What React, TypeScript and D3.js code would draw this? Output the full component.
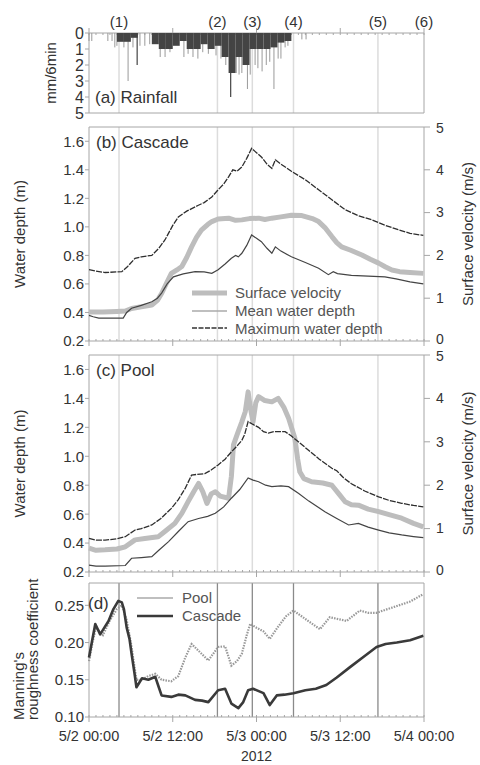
import React from 'react';
import * as d3 from 'd3';

// time in hours since 5/2 00:00
const dateTicks = [0, 12, 24, 36, 48];
const dateLabels = ['5/2 00:00', '5/2 12:00', '5/3 00:00', '5/3 12:00', '5/4 00:00'];
const eventHours = [4.3, 18.4, 23.4, 29.3, 41.4, 48];
const eventLabels = ['(1)', '(2)', '(3)', '(4)', '(5)', '(6)'];

// (a) rainfall, mm/6min
const rainHourly = [
  [4, 0.55], [5, 0.55], [6, 0.3], [9, 0.7], [10, 1.0], [11, 1.0], [12, 0.8], [13, 0.5],
  [14, 1.0], [15, 1.0], [16, 0.7], [17, 1.0], [18, 0.8], [19, 1.5], [20, 2.5], [21, 1.5],
  [22, 2.0], [23, 1.0], [24, 1.0], [25, 1.0], [26, 0.9], [27, 0.6], [28, 0.5],
];
const rainSpikes = [
  [0.0, 0.5], [0.4, 0.5], [2.7, 0.5], [3.3, 0.5], [3.7, 0.9], [4.0, 0.8], [5.0, 0.9], [5.6, 3.0],
  [6.3, 0.9], [7.3, 0.8], [8.0, 0.8], [8.7, 0.7], [10.2, 1.5], [10.9, 1.5], [11.6, 1.2],
  [13.6, 1.5], [14.2, 1.3], [14.9, 1.5], [15.6, 1.6], [16.3, 1.2], [17.1, 1.3], [17.6, 1.0],
  [18.2, 1.4], [18.9, 1.6], [19.6, 2.0], [21.1, 2.5], [21.5, 2.6], [21.9, 2.5], [22.7, 3.5],
  [23.1, 2.6], [23.8, 2.0], [24.2, 2.2], [24.8, 2.4], [25.4, 2.0], [25.9, 1.8], [26.5, 3.5],
  [27.1, 1.6], [27.5, 1.6], [28.1, 0.9], [28.5, 0.8], [30.5, 0.4], [31.1, 0.4],
];
const rainSpikesDark = [[6.9, 2.0], [20.3, 4.0]];

// (b) cascade
const cascadeMax = [
  [0, 0.7], [1, 0.69], [2.3, 0.68], [4.7, 0.686], [5.5, 0.72], [6.6, 0.78], [7.5, 0.79], [9, 0.8],
  [10, 0.85], [10.9, 0.91], [12, 1.01], [12.8, 1.07], [14, 1.11], [15.6, 1.15], [16.5, 1.17],
  [17.6, 1.21], [18.5, 1.26], [19.3, 1.3], [20, 1.35], [20.6, 1.4], [21.2, 1.39], [21.9, 1.42],
  [22.6, 1.48], [23.3, 1.55], [24, 1.52], [24.7, 1.49], [25.5, 1.44], [26.2, 1.41], [26.7, 1.47],
  [27.5, 1.44], [29, 1.39], [31, 1.33], [32.9, 1.26], [34.8, 1.19], [36.7, 1.12], [38.5, 1.08],
  [40.5, 1.05], [42.5, 1.01], [44.3, 0.98], [46, 0.955], [47.9, 0.94],
];
const cascadeMean = [
  [0, 0.38], [0.6, 0.37], [1.4, 0.36], [4.9, 0.36], [5.4, 0.4], [6.1, 0.43], [7.5, 0.45], [9, 0.475],
  [9.8, 0.5], [10.4, 0.536], [11.2, 0.6], [12.1, 0.65], [13.5, 0.67], [15.2, 0.686], [16.5, 0.685],
  [17.6, 0.674], [18.5, 0.7], [19.5, 0.74], [20.4, 0.78], [21, 0.8], [21.4, 0.79], [21.9, 0.815],
  [22.6, 0.87], [23.3, 0.943], [24, 0.92], [24.7, 0.896], [25.5, 0.85], [26.2, 0.815], [26.7, 0.86],
  [27.5, 0.83], [29, 0.79], [31, 0.75], [32.9, 0.71], [34.3, 0.665], [35, 0.686], [35.6, 0.672],
  [37.6, 0.66], [40, 0.655], [42.4, 0.65], [44, 0.635], [46, 0.615], [47.9, 0.6],
];
const cascadeVel = [
  [0, 0.68], [2, 0.68], [4, 0.69], [5.2, 0.7], [6.1, 0.76], [7.5, 0.8], [9, 0.84], [9.8, 0.95],
  [10.4, 1.11], [11.1, 1.35], [11.8, 1.58], [12.6, 1.66], [13.3, 1.74], [14, 1.95], [14.7, 2.2],
  [15.4, 2.42], [16.1, 2.59], [17, 2.72], [17.6, 2.79], [18.5, 2.85], [20, 2.87], [21, 2.82],
  [21.9, 2.83], [23, 2.86], [24.3, 2.87], [25.2, 2.84], [26.2, 2.87], [27.5, 2.9], [29, 2.94],
  [30.5, 2.93], [32, 2.86], [32.9, 2.79], [33.8, 2.65], [34.8, 2.44], [35.5, 2.3], [36.2, 2.2],
  [37.5, 2.12], [39.1, 2.01], [40.3, 1.91], [41.5, 1.82], [42.5, 1.73], [43.4, 1.66], [44.5, 1.62],
  [46, 1.6], [47.9, 1.58],
];

// (c) pool
const poolMax = [
  [0, 0.433], [1, 0.42], [2.3, 0.42], [4, 0.43], [5.2, 0.444], [6.6, 0.49], [7.5, 0.5], [9, 0.525],
  [10.3, 0.57], [11.8, 0.64], [12.8, 0.7], [13.8, 0.78], [14.7, 0.87], [15.5, 0.875], [16.6, 0.88],
  [17.5, 0.905], [18.5, 0.94], [19.5, 0.98], [20.4, 1.03], [21.2, 1.07], [21.9, 1.11], [22.3, 1.15],
  [22.8, 1.24], [23.5, 1.22], [24.3, 1.2], [25, 1.17], [25.7, 1.16], [26.5, 1.17], [28.1, 1.17],
  [29, 1.14], [30, 1.1], [31.5, 1.04], [33, 0.98], [34.8, 0.917], [35.5, 0.9], [36.5, 0.85],
  [37.6, 0.81], [39.5, 0.76], [41.5, 0.72], [43, 0.695], [44.8, 0.675], [46.5, 0.66], [47.9, 0.65],
];
const poolMean = [
  [0, 0.248], [1, 0.24], [2.3, 0.24], [5.2, 0.245], [6.1, 0.295], [7.5, 0.3], [9, 0.306], [10, 0.35],
  [11.4, 0.41], [12.8, 0.48], [14.2, 0.548], [15.7, 0.57], [17, 0.585], [18.1, 0.606], [19.3, 0.65],
  [20.4, 0.71], [21.6, 0.77], [22.8, 0.85], [23.5, 0.835], [24.3, 0.824], [25.3, 0.8], [26.2, 0.79],
  [27.5, 0.795], [28.6, 0.79], [30, 0.744], [31.5, 0.69], [33.8, 0.617], [35.5, 0.57], [37.2, 0.525],
  [38.6, 0.536], [40, 0.51], [41.5, 0.49], [43, 0.47], [44.8, 0.456], [46.5, 0.445], [47.9, 0.437],
];
const poolVel = [
  [0, 0.55], [1, 0.5], [2.3, 0.51], [4, 0.53], [5.2, 0.58], [6.6, 0.74], [8, 0.77], [9.9, 0.81],
  [11, 0.95], [12.3, 1.12], [13.3, 1.35], [14.2, 1.62], [15, 1.85], [15.7, 2.04], [16.3, 1.85],
  [16.9, 1.58], [17.5, 1.8], [18.1, 1.85], [18.8, 1.75], [20, 1.7], [20.4, 2.2], [20.7, 2.93],
  [21.3, 3.2], [21.9, 3.46], [22.4, 3.7], [22.8, 4.15], [23.1, 3.8], [23.5, 3.46], [23.9, 3.9],
  [24.3, 4.04], [25.2, 3.95], [26.2, 3.92], [27.1, 4.0], [27.9, 3.8], [28.6, 3.54], [29.5, 3.08],
  [29.9, 2.6], [30.2, 2.31], [30.8, 2.15], [31.9, 2.08], [33.5, 2.05], [34.8, 2.0], [35.8, 1.8],
  [36.7, 1.62], [37.6, 1.55], [38.6, 1.54], [40, 1.45], [41.5, 1.39], [43, 1.32], [44.8, 1.24],
  [46.5, 1.12], [47.9, 1.04],
];

// (d) Manning's n
const cascadeN = [
  [0, 0.18], [0.4, 0.2], [0.9, 0.225], [1.6, 0.211], [2.2, 0.22], [2.8, 0.229], [3.5, 0.245],
  [4.2, 0.256], [4.7, 0.254], [5.0, 0.245], [5.4, 0.22], [5.8, 0.205], [6.1, 0.185], [6.5, 0.16],
  [6.8, 0.14], [7.6, 0.152], [8.5, 0.15], [9.5, 0.154], [10, 0.14], [10.4, 0.129], [11.8, 0.127],
  [12.8, 0.13], [13.8, 0.129], [15.2, 0.123], [16.2, 0.122], [17.1, 0.12], [18.5, 0.136],
  [19.5, 0.138], [20.4, 0.118], [21.4, 0.112], [22.1, 0.12], [22.8, 0.136], [23.5, 0.138], [25, 0.132],
  [25.9, 0.116], [26.9, 0.129], [28, 0.13], [29.3, 0.132], [31, 0.136], [32.5, 0.138], [34, 0.143],
  [35.5, 0.153], [37.4, 0.167], [39.5, 0.182], [41.2, 0.194], [42.5, 0.198], [44.1, 0.2], [46, 0.203],
  [47.9, 0.209],
];
const poolN = [
  [0, 0.175], [0.5, 0.2], [1, 0.22], [2, 0.21], [3, 0.23], [4, 0.245], [4.7, 0.25], [5.4, 0.23],
  [6, 0.2], [6.8, 0.15], [7.6, 0.15], [8.5, 0.155], [9.5, 0.158], [10.4, 0.15], [11.8, 0.148],
  [12.8, 0.155], [13.8, 0.18], [14.7, 0.198], [15.8, 0.188], [17.1, 0.176], [18.5, 0.194],
  [19.5, 0.195], [20.4, 0.169], [21.2, 0.175], [21.9, 0.185], [22.6, 0.21], [23.1, 0.225], [24, 0.22],
  [25, 0.215], [25.9, 0.205], [27, 0.22], [28.2, 0.235], [29.3, 0.243], [30.5, 0.235], [32, 0.225],
  [33.1, 0.218], [34.5, 0.234], [35.5, 0.232], [36.9, 0.229], [38.8, 0.243], [40, 0.24], [41.2, 0.24],
  [42.8, 0.245], [44.1, 0.249], [46, 0.255], [47.9, 0.265],
];

const FONT = 'Liberation Sans, Arial, sans-serif';
const AXIS = '#a6a6a6';
const TXT = '#333';
const L = 89, R = 424;
const hours = d3.range(0, 49);

const x = d3.scaleLinear().domain([0, 48]).range([L, R]);

const App = () => {
  const ya = d3.scaleLinear().domain([0, 5]).range([33, 113]);
  const yb = d3.scaleLinear().domain([0.2, 1.7]).range([341, 127]);
  const vb = d3.scaleLinear().domain([0, 5]).range([341, 127]);
  const yc = d3.scaleLinear().domain([0.2, 1.7]).range([572, 355]);
  const vc = d3.scaleLinear().domain([0, 5]).range([572, 355]);
  const yd = d3.scaleLinear().domain([0.1, 0.28]).range([717, 583]);

  const line = (ys) => d3.line().x(d => x(d[0])).y(d => ys(d[1]));

  const box = (top, bottom) => (
    <g>
      <line x1={L} x2={R} y1={top} y2={top} stroke={AXIS} />
      <line x1={L} x2={R} y1={bottom} y2={bottom} stroke={AXIS} />
      <line x1={L} x2={L} y1={top} y2={bottom} stroke={AXIS} />
      <line x1={R} x2={R} y1={top} y2={bottom} stroke={AXIS} />
    </g>
  );

  const events = (top, bottom, color, w) => eventHours.slice(0, 5).map((h, i) => (
    <line key={i} x1={x(h)} x2={x(h)} y1={top} y2={bottom} stroke={color} strokeWidth={w} />
  ));

  const timeTicks = (yPos, dir) => (
    <g>
      {hours.map(h => (
        <line key={h} x1={x(h)} x2={x(h)} y1={yPos} y2={yPos + dir * 2} stroke={AXIS} />
      ))}
      {dateTicks.map(h => (
        <line key={'m' + h} x1={x(h)} x2={x(h)} y1={yPos} y2={yPos - dir * 5} stroke={AXIS} />
      ))}
    </g>
  );

  const leftAxis = (scale, ticks, fmt, size) => ticks.map(t => (
    <g key={t}>
      <line x1={L - 4} x2={L} y1={scale(t)} y2={scale(t)} stroke={AXIS} />
      <text x={L - 5} y={scale(t)} dy="0.36em" textAnchor="end" fontSize={size} fill={TXT}>{fmt(t)}</text>
    </g>
  ));

  // top and bottom labels nudged apart so stacked panels' 0 and 5 do not collide
  const rightAxis = (scale) => d3.range(0, 6).map(t => (
    <g key={t}>
      <line x1={R} x2={R + 6} y1={scale(t)} y2={scale(t)} stroke={AXIS} />
      <text x={R + 12} y={scale(t)} dy={t === 0 ? '0.2em' : t === 5 ? '0.45em' : '0.34em'}
        fontSize={14} fill={TXT}>{t}</text>
    </g>
  ));

  const depthTicks = [0.2, 0.4, 0.6, 0.8, 1.0, 1.2, 1.4, 1.6];

  const panelDepth = (ys, vs, top, bottom, maxD, meanD, vel, title) => (
    <g>
      {events(top, bottom, '#dcdcdc', 1.5)}
      {box(top, bottom)}
      {timeTicks(bottom, -1)}
      {leftAxis(ys, depthTicks, d3.format('.1f'), 15)}
      {rightAxis(vs)}
      <path d={line(vs)(vel)} fill="none" stroke="#bdbdbd" strokeWidth={5} strokeLinejoin="round" />
      <path d={line(ys)(meanD)} fill="none" stroke="#444" strokeWidth={1.2} />
      <path d={line(ys)(maxD)} fill="none" stroke="#2e2e2e" strokeWidth={1.3} strokeDasharray="6 1.2" />
      <text x={96} y={top + 21} fontSize={17} fill={TXT}>{title}</text>
    </g>
  );

  const mid = (a, b) => (a + b) / 2;

  return (
    <svg width={480} height={765} style={{ position: 'absolute', left: 0, top: 0, fontFamily: FONT }}>
      <rect width={480} height={765} fill="#fff" />

      {/* (a) Rainfall */}
      {events(33, 113, '#dcdcdc', 1.5)}
      {box(33, 113)}
      {timeTicks(33, 1)}
      {rainSpikes.map((d, i) => (
        <line key={i} x1={x(d[0])} x2={x(d[0])} y1={ya(0)} y2={ya(d[1])} stroke="#9a9a9a" strokeWidth={1} />
      ))}
      {rainHourly.map((d, i) => (
        <rect key={i} x={x(d[0])} y={ya(0)} width={x(d[0] + 1) - x(d[0])} height={ya(d[1]) - ya(0)} fill="#444" />
      ))}
      {rainSpikesDark.map((d, i) => (
        <line key={i} x1={x(d[0])} x2={x(d[0])} y1={ya(0)} y2={ya(d[1])} stroke="#444" strokeWidth={1.2} />
      ))}
      {leftAxis(ya, d3.range(0, 6), d => String(d), 16)}
      {eventHours.map((h, i) => (
        <text key={i} x={x(h)} y={27} textAnchor="middle" fontSize={15} fill={TXT}>{eventLabels[i]}</text>
      ))}
      <text x={95} y={103} fontSize={17} fill={TXT}>(a) Rainfall</text>
      <text transform={`translate(56,${mid(33, 113)}) rotate(-90)`} textAnchor="middle" fontSize={15} fill={TXT}>mm/6min</text>

      {/* (b) Cascade */}
      {panelDepth(yb, vb, 127, 341, cascadeMax, cascadeMean, cascadeVel, '(b) Cascade')}
      <g fontSize={15} fill="#555">
        <line x1={192} x2={227} y1={293} y2={293} stroke="#bdbdbd" strokeWidth={5} />
        <text x={235} y={298}>Surface velocity</text>
        <line x1={192} x2={227} y1={311} y2={311} stroke="#aaa" strokeWidth={1.5} />
        <text x={235} y={316}>Mean water depth</text>
        <line x1={192} x2={227} y1={328} y2={328} stroke="#333" strokeWidth={1.3} strokeDasharray="5 1.5" />
        <text x={235} y={334}>Maximum water depth</text>
      </g>
      <text transform={`translate(25,${mid(127, 341)}) rotate(-90)`} textAnchor="middle" fontSize={15} fill={TXT}>Water depth (m)</text>
      <text transform={`translate(473,${mid(127, 341)}) rotate(-90)`} textAnchor="middle" fontSize={15} fill={TXT}>Surface velocity (m/s)</text>

      {/* (c) Pool */}
      {panelDepth(yc, vc, 355, 572, poolMax, poolMean, poolVel, '(c) Pool')}
      <text transform={`translate(25,${mid(355, 572)}) rotate(-90)`} textAnchor="middle" fontSize={15} fill={TXT}>Water depth (m)</text>
      <text transform={`translate(473,${mid(355, 572)}) rotate(-90)`} textAnchor="middle" fontSize={15} fill={TXT}>Surface velocity (m/s)</text>

      {/* (d) Manning's n */}
      {events(583, 717, '#8a8a8a', 1.3)}
      {box(583, 717)}
      {timeTicks(717, -1)}
      {leftAxis(yd, [0.1, 0.15, 0.2, 0.25], d3.format('.2f'), 15)}
      <path d={line(yd)(poolN)} fill="none" stroke="#999" strokeWidth={2.2} strokeDasharray="1.5 1.2" />
      <path d={line(yd)(cascadeN)} fill="none" stroke="#3a3a3a" strokeWidth={2.6} strokeLinejoin="round" />
      <text x={88} y={609} fontSize={17} fill={TXT}>(d)</text>
      <g fontSize={15} fill="#555">
        <line x1={137} x2={173} y1={598} y2={598} stroke="#aaa" strokeWidth={1.5} />
        <text x={182} y={603}>Pool</text>
        <line x1={137} x2={173} y1={616} y2={616} stroke="#3a3a3a" strokeWidth={2.6} />
        <text x={182} y={621}>Cascade</text>
      </g>
      <text transform="translate(24,720) rotate(-90)" fontSize={15} fill={TXT}>Manning's</text>
      <text transform="translate(38,720) rotate(-90)" fontSize={15} fill={TXT}>roughness coefficient</text>
      {dateTicks.map((h, i) => (
        <text key={h} x={x(h)} y={741} textAnchor="middle" fontSize={14.5} fill={TXT}>{dateLabels[i]}</text>
      ))}
      <text x={mid(L, R)} y={761} textAnchor="middle" fontSize={14} fill={TXT}>2012</text>
    </svg>
  );
};

export default App;
